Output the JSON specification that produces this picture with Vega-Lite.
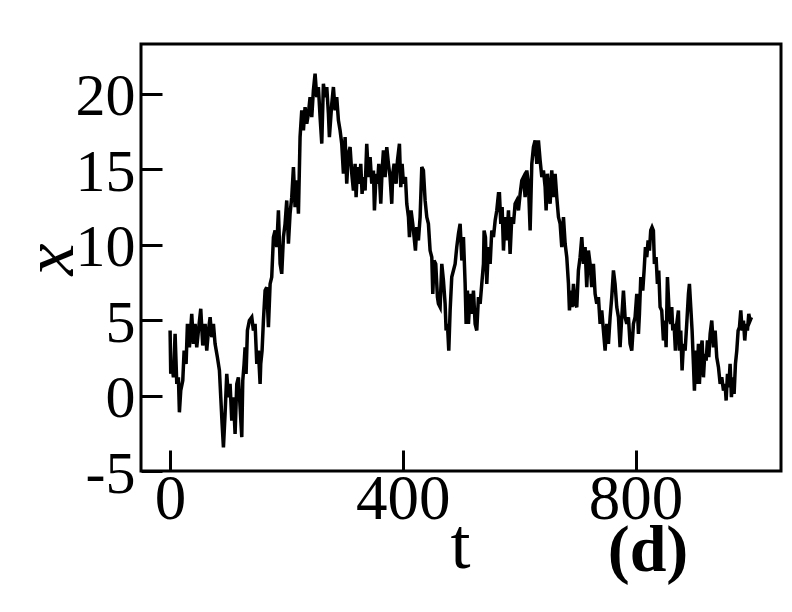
{
  "$schema": "https://vega.github.io/schema/vega-lite/v6.json",
  "width": 640,
  "height": 427,
  "autosize": {"type": "none"},
  "padding": {"left": 141, "top": 44, "right": 11, "bottom": 141},
  "background": "white",
  "config": {
    "view": {"stroke": "black", "strokeWidth": 3},
    "font": "Liberation Serif"
  },
  "title": {
    "text": "(d)",
    "orient": "bottom",
    "frame": "group",
    "anchor": "start",
    "align": "center",
    "dx": 507,
    "offset": -10,
    "baseline": "alphabetic",
    "font": "Liberation Serif",
    "fontSize": 66,
    "fontWeight": "bold",
    "color": "black"
  },
  "data": {"values": [
    {"t":0,"x":4.31},{"t":1.1,"x":1.44},{"t":3.4,"x":2.10},{"t":5.7,"x":1.21},{"t":8.6,"x":4.09},{"t":11.5,"x":0.77},{"t":14.3,"x":1.21},{"t":16.0,"x":-1.11},{"t":18.3,"x":0.33},{"t":21.8,"x":0.99},{"t":24.1,"x":2.98},{"t":27.5,"x":2.10},{"t":29.8,"x":4.75},{"t":33.2,"x":3.20},{"t":37.2,"x":5.42},{"t":40.1,"x":3.43},{"t":43.0,"x":4.75},{"t":45.8,"x":3.20},{"t":48.7,"x":4.31},{"t":52.7,"x":5.75},{"t":56.1,"x":3.32},{"t":60.2,"x":4.75},{"t":63.0,"x":2.98},{"t":65.9,"x":4.31},{"t":68.8,"x":5.19},{"t":71.6,"x":3.87},{"t":74.5,"x":4.75},{"t":77.3,"x":3.43},{"t":81.3,"x":2.54},{"t":84.8,"x":1.66},{"t":87.1,"x":-0.11},{"t":89.4,"x":-1.88},{"t":91.7,"x":-3.43},{"t":94.5,"x":-1.22},{"t":97.4,"x":1.44},{"t":100.3,"x":-0.11},{"t":103.1,"x":0.77},{"t":106.0,"x":-1.66},{"t":108.9,"x":-0.11},{"t":111.7,"x":-2.54},{"t":114.6,"x":0.77},{"t":117.4,"x":1.21},{"t":120.3,"x":-0.77},
    {"t":123.2,"x":-2.76},{"t":124.9,"x":0.99},{"t":127.2,"x":2.10},{"t":128.9,"x":3.20},{"t":130.6,"x":1.44},{"t":132.9,"x":4.31},{"t":136.3,"x":4.97},{"t":140.4,"x":5.19},{"t":143.2,"x":4.31},{"t":146.1,"x":4.75},{"t":149.0,"x":2.10},{"t":151.8,"x":2.98},{"t":154.7,"x":0.77},{"t":155.8,"x":2.10},{"t":158.1,"x":2.98},{"t":160.4,"x":4.97},{"t":163.3,"x":6.96},{"t":166.1,"x":7.18},{"t":169.0,"x":4.53},{"t":171.9,"x":7.40},{"t":174.7,"x":7.85},{"t":177.6,"x":10.50},{"t":180.5,"x":10.94},{"t":183.3,"x":9.84},{"t":186.2,"x":12.27},{"t":189.1,"x":8.73},{"t":191.9,"x":8.07},{"t":194.8,"x":10.50},{"t":197.6,"x":11.38},{"t":200.5,"x":12.93},{"t":203.4,"x":10.06},{"t":206.2,"x":12.05},{"t":209.1,"x":13.15},{"t":212.0,"x":15.14},{"t":214.8,"x":12.49},{"t":217.7,"x":14.26},{"t":220.6,"x":12.05},{"t":223.4,"x":17.13},{"t":226.3,"x":18.90},{"t":229.2,"x":17.57},{"t":232.0,"x":19.12},{"t":234.9,"x":18.01},{"t":237.7,"x":18.68},{"t":240.6,"x":19.78},{"t":243.5,"x":18.46},{"t":246.3,"x":20.23},{"t":249.2,"x":21.33},{"t":252.1,"x":19.78},{"t":254.9,"x":20.45},{"t":257.8,"x":18.46},{"t":260.7,"x":16.69},{"t":263.5,"x":20.67},{"t":266.4,"x":19.78},{"t":269.3,"x":20.45},{"t":272.1,"x":18.68},{"t":273.8,"x":17.13},{"t":277.9,"x":19.34},{"t":280.7,"x":20.45},{"t":283.6,"x":18.90},{"t":286.4,"x":19.78},{"t":289.3,"x":18.24},{"t":292.2,"x":17.57},{"t":295.0,"x":16.69},{"t":297.9,"x":14.70},{"t":300.8,"x":17.13},{"t":303.6,"x":14.04},{"t":306.5,"x":16.03},
    {"t":309.4,"x":16.47},{"t":312.3,"x":14.70},{"t":315.1,"x":13.59},{"t":318.0,"x":15.36},{"t":319.7,"x":13.15},{"t":322.0,"x":15.14},{"t":325.4,"x":14.04},{"t":327.7,"x":15.36},{"t":330.0,"x":13.37},{"t":332.3,"x":14.48},{"t":335.2,"x":13.59},{"t":338.0,"x":16.69},{"t":340.9,"x":14.48},{"t":343.8,"x":15.80},{"t":346.6,"x":14.04},{"t":349.5,"x":14.92},{"t":351.2,"x":12.27},{"t":354.1,"x":14.70},{"t":356.4,"x":14.04},{"t":358.7,"x":15.36},{"t":362.1,"x":12.71},{"t":364.4,"x":14.92},{"t":366.7,"x":16.25},{"t":369.6,"x":14.48},{"t":372.4,"x":16.47},{"t":375.3,"x":15.36},{"t":378.1,"x":14.48},{"t":381.0,"x":12.71},{"t":382.7,"x":14.70},{"t":385.0,"x":15.36},{"t":388.5,"x":14.04},{"t":390.8,"x":15.58},{"t":394.2,"x":16.69},{"t":396.5,"x":13.81},{"t":398.8,"x":15.36},{"t":401.1,"x":14.04},{"t":404.5,"x":14.48},{"t":406.8,"x":12.71},{"t":409.7,"x":11.83},{"t":411.4,"x":10.50},{"t":414.2,"x":12.27},{"t":417.1,"x":11.38},{"t":419.4,"x":10.50},{"t":421.7,"x":9.61},{"t":424.0,"x":11.16},{"t":426.8,"x":10.28},{"t":429.7,"x":11.83},{"t":432.6,"x":15.14},{"t":435.4,"x":14.92},{"t":438.3,"x":12.93},{"t":441.2,"x":11.83},{"t":444.0,"x":11.38},{"t":446.9,"x":9.61},{"t":449.8,"x":9.17},{"t":451.5,"x":6.74},{"t":453.8,"x":8.95},{"t":456.6,"x":8.73},{"t":459.5,"x":6.52},{"t":461.2,"x":6.08},{"t":464.1,"x":5.86},{"t":467.0,"x":8.73},{"t":469.8,"x":7.63},{"t":472.7,"x":6.08},{"t":474.4,"x":4.31},{"t":476.7,"x":4.75},{"t":479.0,"x":2.98},{"t":481.3,"x":5.64},{"t":484.1,"x":7.85},{"t":487.0,"x":8.29},{"t":489.9,"x":8.73},{"t":492.7,"x":9.84},{"t":495.6,"x":10.72},
    {"t":498.5,"x":11.38},{"t":501.4,"x":8.95},{"t":504.2,"x":10.50},{"t":507.1,"x":7.40},{"t":508.8,"x":4.75},{"t":511.1,"x":6.96},{"t":512.8,"x":4.75},{"t":515.7,"x":6.74},{"t":518.6,"x":5.42},{"t":521.4,"x":6.96},{"t":524.3,"x":4.75},{"t":527.1,"x":4.31},{"t":530.0,"x":6.52},{"t":532.9,"x":6.08},{"t":535.7,"x":7.40},{"t":538.6,"x":8.73},{"t":539.7,"x":10.94},{"t":542.0,"x":10.50},{"t":544.3,"x":7.40},{"t":547.2,"x":9.84},{"t":550.1,"x":8.73},{"t":552.9,"x":10.94},{"t":555.8,"x":10.50},{"t":558.7,"x":11.60},{"t":561.5,"x":12.27},{"t":564.4,"x":13.37},{"t":566.1,"x":13.37},{"t":568.4,"x":11.38},{"t":570.7,"x":12.49},{"t":573.0,"x":9.61},{"t":575.8,"x":11.83},{"t":578.7,"x":10.28},{"t":581.6,"x":12.27},{"t":584.4,"x":9.39},{"t":587.3,"x":11.83},{"t":590.2,"x":11.38},{"t":593.0,"x":12.71},{"t":595.9,"x":12.93},{"t":598.8,"x":12.27},{"t":601.6,"x":13.37},{"t":604.5,"x":14.26},{"t":607.4,"x":14.48},{"t":610.2,"x":13.15},{"t":613.1,"x":14.92},{"t":615.9,"x":14.04},{"t":618.8,"x":10.94},{"t":621.7,"x":15.36},{"t":624.5,"x":16.47},{"t":627.4,"x":16.91},{"t":630.3,"x":15.36},{"t":633.1,"x":16.91},{"t":636.0,"x":15.58},{"t":638.9,"x":14.48},{"t":641.7,"x":14.92},{"t":644.6,"x":13.81},{"t":646.3,"x":12.27},{"t":648.6,"x":14.70},{"t":650.9,"x":13.59},{"t":653.2,"x":12.71},{"t":656.0,"x":14.92},{"t":658.9,"x":13.15},{"t":661.8,"x":14.70},{"t":664.6,"x":13.15},{"t":667.5,"x":11.83},{"t":670.4,"x":11.38},{"t":673.2,"x":9.84},{"t":676.1,"x":11.83},{"t":679.0,"x":10.06},{"t":681.8,"x":9.17},{"t":684.7,"x":7.40},{"t":686.4,"x":5.64},{"t":688.7,"x":6.96},{"t":691.0,"x":5.86},{"t":693.3,"x":7.40},{"t":696.2,"x":6.08},
    {"t":699.0,"x":5.86},{"t":701.8,"x":8.29},{"t":704.7,"x":9.17},{"t":707.6,"x":10.50},{"t":710.4,"x":8.73},{"t":713.3,"x":9.84},{"t":716.1,"x":7.18},{"t":719.0,"x":9.61},{"t":721.9,"x":8.73},{"t":724.7,"x":7.18},{"t":727.6,"x":8.73},{"t":730.5,"x":6.74},{"t":733.3,"x":6.08},{"t":736.2,"x":6.52},{"t":739.1,"x":4.75},{"t":741.9,"x":5.64},{"t":744.8,"x":4.31},{"t":747.7,"x":2.98},{"t":750.5,"x":4.75},{"t":753.4,"x":3.43},{"t":756.3,"x":5.19},{"t":759.1,"x":6.52},{"t":762.0,"x":8.29},{"t":764.8,"x":7.40},{"t":767.7,"x":5.86},{"t":770.6,"x":5.19},{"t":773.4,"x":3.20},{"t":776.3,"x":5.19},{"t":779.2,"x":6.96},{"t":782.0,"x":5.19},{"t":784.9,"x":4.75},{"t":787.8,"x":5.19},{"t":790.6,"x":3.43},{"t":793.5,"x":2.98},{"t":796.4,"x":4.75},{"t":799.2,"x":5.19},{"t":802.1,"x":6.74},{"t":805.0,"x":4.09},{"t":806.7,"x":5.42},{"t":809.0,"x":7.85},{"t":812.4,"x":6.96},{"t":814.7,"x":8.29},{"t":817.0,"x":9.84},{"t":819.3,"x":9.17},{"t":821.6,"x":10.28},{"t":823.9,"x":9.61},{"t":826.1,"x":10.94},{"t":828.4,"x":11.16},{"t":830.7,"x":10.94},{"t":832.4,"x":8.73},{"t":835.3,"x":9.17},{"t":837.6,"x":7.40},{"t":839.9,"x":8.29},{"t":842.2,"x":5.86},{"t":845.0,"x":5.64},{"t":847.9,"x":3.65},{"t":850.8,"x":4.97},{"t":852.5,"x":3.20},{"t":854.8,"x":7.85},{"t":856.5,"x":6.52},{"t":858.2,"x":5.19},{"t":860.5,"x":4.75},{"t":862.2,"x":5.86},{"t":864.0,"x":4.31},{"t":866.2,"x":4.75},{"t":868.5,"x":2.98},{"t":870.8,"x":4.75},{"t":873.7,"x":5.64},{"t":875.4,"x":2.98},{"t":877.7,"x":4.31},{"t":880.0,"x":1.66},{"t":882.3,"x":3.43},{"t":885.2,"x":2.98},{"t":888.0,"x":4.75},{"t":890.9,"x":6.74},
    {"t":892.6,"x":7.40},{"t":894.9,"x":5.86},{"t":897.2,"x":4.31},{"t":899.5,"x":2.10},{"t":901.2,"x":0.33},{"t":903.5,"x":2.98},{"t":905.2,"x":0.77},{"t":908.1,"x":3.43},{"t":909.8,"x":0.77},{"t":912.1,"x":2.98},{"t":914.4,"x":3.65},{"t":916.7,"x":1.21},{"t":919.0,"x":2.76},{"t":921.3,"x":2.32},{"t":923.6,"x":3.65},{"t":925.9,"x":2.54},{"t":928.2,"x":4.09},{"t":931.0,"x":4.97},{"t":933.9,"x":3.20},{"t":936.8,"x":4.31},{"t":939.6,"x":2.54},{"t":942.5,"x":1.88},{"t":945.4,"x":0.77},{"t":948.2,"x":1.21},{"t":951.1,"x":0.33},{"t":953.9,"x":0.77},{"t":955.7,"x":-0.33},{"t":958.0,"x":1.44},{"t":960.2,"x":0.55},{"t":962.5,"x":2.10},{"t":964.8,"x":-0.11},{"t":967.1,"x":1.21},{"t":969.4,"x":0.11},{"t":971.7,"x":2.10},{"t":974.0,"x":2.98},{"t":976.3,"x":4.31},{"t":978.6,"x":4.53},{"t":980.9,"x":5.64},{"t":983.2,"x":4.31},{"t":985.5,"x":4.97},{"t":987.7,"x":3.65},{"t":990.0,"x":4.75},{"t":992.3,"x":4.31},{"t":994.6,"x":5.42},{"t":996.9,"x":4.97},{"t":999.2,"x":5.19}
  ]},
  "mark": {"type": "line", "color": "black", "strokeWidth": 3.5},
  "encoding": {
    "x": {
      "field": "t", "type": "quantitative",
      "scale": {"domain": [-50, 1050], "nice": false, "zero": false},
      "axis": {
        "title": "t", "values": [0, 400, 800], "grid": false, "domain": false,
        "tickSize": -21, "tickWidth": 3, "tickColor": "black",
        "labelFont": "Liberation Serif", "labelFontSize": 63, "labelColor": "black",
        "labelBaseline": "alphabetic", "labelPadding": 68, "labelFlush": false,
        "titleFont": "Liberation Serif", "titleFontSize": 72, "titleFontWeight": "normal", "titleColor": "black",
        "titleBaseline": "alphabetic", "titleAlign": "center", "titleX": 319, "titleY": 96
      }
    },
    "y": {
      "field": "x", "type": "quantitative",
      "scale": {"domain": [-5, 23.3], "nice": false, "zero": false},
      "axis": {
        "title": "x", "values": [-5, 0, 5, 10, 15, 20], "grid": false, "domain": false,
        "tickSize": -21, "tickWidth": 3, "tickColor": "black",
        "labelExpr": "'' + datum.value",
        "labelFont": "Liberation Serif", "labelFontSize": 60, "labelColor": "black",
        "labelBaseline": "alphabetic", "labelOffset": 21, "labelPadding": 27, "labelFlush": false,
        "titleFont": "Liberation Serif", "titleFontSize": 72, "titleFontWeight": "normal", "titleFontStyle": "italic", "titleColor": "black",
        "titleBaseline": "alphabetic", "titleAlign": "center", "titleAngle": -90, "titleX": -69, "titleY": 215
      }
    }
  }
}
